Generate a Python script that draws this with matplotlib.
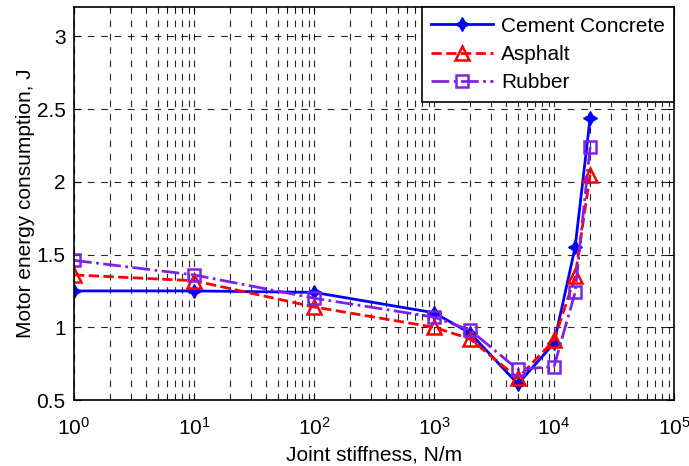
import numpy as np
import matplotlib
matplotlib.use("Agg")
import matplotlib.pyplot as plt
from matplotlib.ticker import LogLocator, MultipleLocator, NullFormatter, FormatStrFormatter

plt.rcParams['font.family'] = ['Liberation Sans', 'DejaVu Sans']
plt.rcParams['mathtext.fontset'] = 'custom'
plt.rcParams['mathtext.rm'] = 'Liberation Sans'

stiffness = [1, 10, 100, 1000, 2000, 5000, 10000, 15000, 20000]
cement = [1.25, 1.25, 1.24, 1.10, 0.96, 0.61, 0.89, 1.55, 2.44]
asphalt = [1.36, 1.32, 1.14, 1.00, 0.92, 0.65, 0.91, 1.35, 2.05]
rubber = [1.46, 1.36, 1.20, 1.07, 0.98, 0.71, 0.73, 1.24, 2.24]
labels = ["Cement Concrete", "Asphalt", "Rubber"]

fig = plt.figure(figsize=(6.89, 4.66), dpi=100)
ax = fig.add_axes([74 / 689, 66 / 466, 600 / 689, 392.7 / 466])

ax.plot(stiffness, cement, '-', color='#0000FF', lw=2, marker=(4, 1, 0),
        ms=10, label=labels[0])
ax.plot(stiffness, asphalt, '--', color='#FF0000', lw=2, marker='^',
        ms=10, mfc='none', mew=1.8, label=labels[1])
ax.plot(stiffness, rubber, '-.', color='#7F22E8', lw=2, marker='s',
        ms=9, mfc='none', mew=1.8, label=labels[2])

ax.set_xscale('log')
ax.set_xlim(1, 1e5)
ax.set_ylim(0.5, 3.2)
ax.xaxis.set_major_locator(LogLocator(base=10, numticks=10))
ax.xaxis.set_minor_locator(LogLocator(base=10, subs=np.arange(2, 10), numticks=20))
ax.xaxis.set_minor_formatter(NullFormatter())
ax.yaxis.set_major_locator(MultipleLocator(0.5))
ax.yaxis.set_major_formatter(FormatStrFormatter('%g'))

ax.grid(True, which='major', axis='both', color='k', ls=(0, (6, 6)), lw=0.8, alpha=0.85)
ax.grid(True, which='minor', axis='x', color='k', ls=(0, (6, 6)), lw=0.8, alpha=0.85)

ax.tick_params(which='both', direction='in', top=True, right=True, labelsize=15)
ax.tick_params(which='major', length=5)
ax.tick_params(axis='x', which='major', pad=12)
ax.tick_params(axis='y', which='major', pad=6)
ax.tick_params(which='minor', length=3)
for s in ax.spines.values():
    s.set_linewidth(1.2)

ax.set_xlabel("Joint stiffness, N/m", fontsize=15, labelpad=5)
ax.set_ylabel("Motor energy consumption, J", fontsize=15, labelpad=1)

leg = ax.legend(loc='upper right', borderaxespad=0, fontsize=15, fancybox=False,
                edgecolor='k', framealpha=1, handlelength=3.0, handletextpad=0.35,
                labelspacing=0.45, borderpad=0.45)
leg.get_frame().set_linewidth(1.2)

fig.savefig("out.png", dpi=100)
